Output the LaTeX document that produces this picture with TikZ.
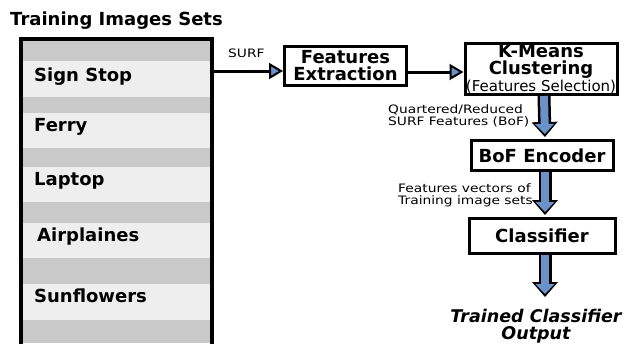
\documentclass[tikz,border=0pt]{standalone}
\usepackage{fontspec}
\setmainfont{DejaVu Sans}
\newfontfamily\largafonte[FakeStretch=1.19]{DejaVu Sans}
\usetikzlibrary{arrows.meta}
\definecolor{rowdark}{RGB}{201,201,201}
\definecolor{rowlight}{RGB}{238,238,238}
\definecolor{setablue}{RGB}{106,146,200}

\begin{document}
\begin{tikzpicture}[
    x=1pt, y=-1pt,
    etapa/.style={draw,line width=3pt,align=center,inner sep=0pt,font=\bfseries\fontsize{18}{17}\selectfont},
    item/.style={anchor=base west,inner sep=0pt,font=\bfseries\fontsize{18}{18}\selectfont},
    rotulo/.style={inner sep=0pt,font=\largafonte\fontsize{11.6}{12}\selectfont},
    liga/.style={line width=3pt,-{Triangle[length=14pt,width=16pt,fill=setablue,line width=2pt]}},
    seta/.style={preaction={draw=black,line width=13pt,shorten >=2pt,-{Triangle[length=15pt,width=26pt,line width=0pt]}},
                 draw=setablue,line width=8pt,shorten >=5pt,-{Triangle[length=10pt,width=19pt,line width=0pt]}}
]
\useasboundingbox (0,0) rectangle (629,343);

% left panel with the image sets
\foreach \ya/\yb/\tom in {39/61/rowdark, 61/97/rowlight, 97/113/rowdark, 113/148/rowlight,
    148/167/rowdark, 167/202/rowlight, 202/223/rowdark, 223/258/rowlight,
    258/284/rowdark, 284/320/rowlight, 320/343/rowdark}
  \fill[\tom] (21,\ya) rectangle (212,\yb);
\draw[line width=3.5pt] (21,346) |- (212,39) -- (212,346);
\coordinate (saida) at (212,71);

\node[item] (titulo) at (10,25) {Training Images Sets};
\node[item] (sign) at (34,81.5) {Sign Stop};
\node[item] (ferry) at (34,131.5) {Ferry};
\node[item] (laptop) at (34,185) {Laptop};
\node[item] (airp) at (37,241.5) {Airplaines};
\node[item] (sunf) at (34,302.5) {Sunflowers};

% pipeline
\node[etapa,minimum width=122pt,minimum height=39pt] (fe) at (345.5,66) {Features\\Extraction};
\node[etapa,minimum width=152pt,minimum height=51pt] (km) at (541,69)
    {K-Means\\Clustering\\{\mdseries\fontsize{15}{15}\selectfont(Features Selection)}};
\node[etapa,minimum width=142pt,minimum height=30pt] (bof) at (542,155.5) {BoF Encoder};
\node[etapa,minimum width=146pt,minimum height=35pt] (cls) at (542,236) {Classifier};
\node[inner sep=0pt,align=center,font=\bfseries\itshape\fontsize{17.5}{17}\selectfont] (saidaclf) at (536,326)
    {Trained Classifier\\Output};
\coordinate (fim) at (545,299);

\draw[liga] (saida) -- (saida -| fe.west);
\draw[liga] ([yshift=-6pt]fe.east) -- ([yshift=-6pt]fe.east -| km.west);

\draw[seta] ([xshift=3pt]km.south) -- ([xshift=3pt]bof.north);
\draw[seta] ([xshift=3pt]bof.south) -- ([xshift=3pt]cls.north);
\draw[seta] ([xshift=3pt]cls.south) -- (fim);

\node[rotulo,anchor=base west] (lsurf) at (228,57) {SURF};
\node[rotulo,align=left,anchor=north west] (lquart) at (388,104) {Quartered/Reduced\\SURF Features (BoF)};
\node[rotulo,align=left,anchor=north west] (lvet) at (398,183) {Features vectors of\\Training image sets};
\end{tikzpicture}
\end{document}
